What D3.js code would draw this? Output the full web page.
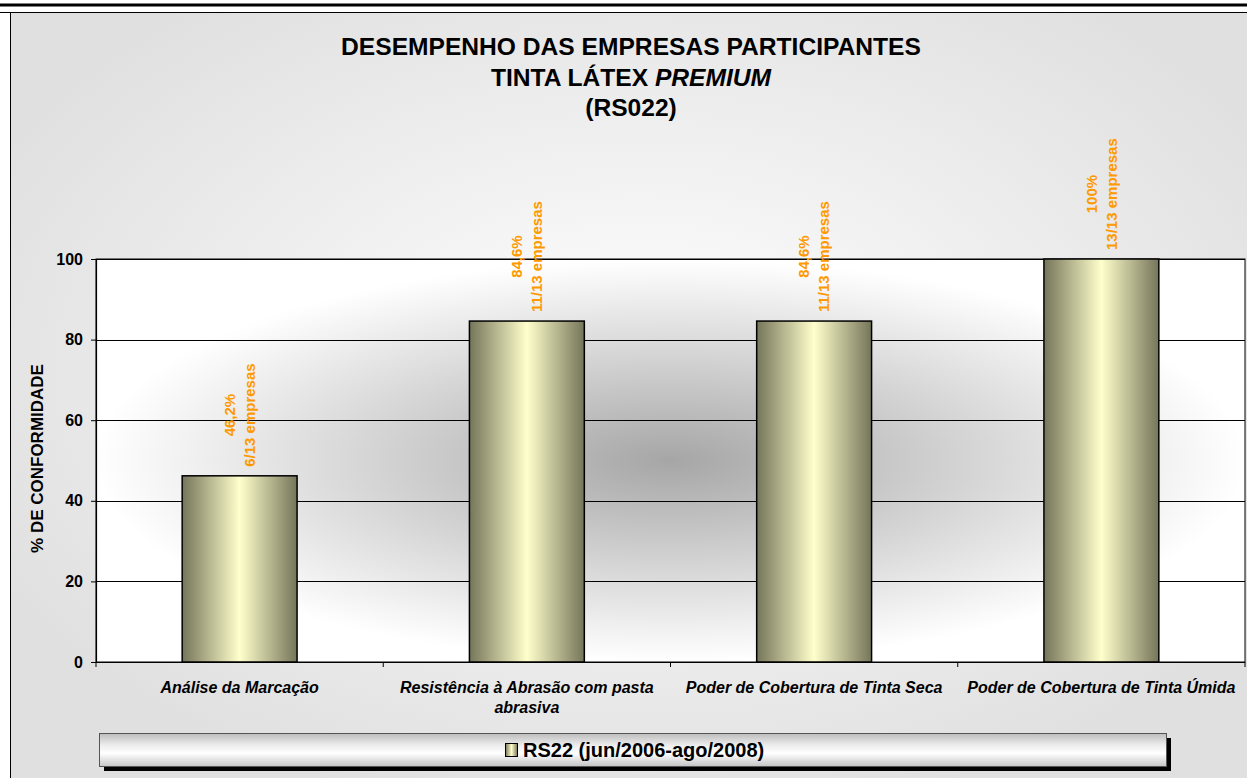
<!DOCTYPE html>
<html>
<head>
<meta charset="utf-8">
<script src="https://cdn.jsdelivr.net/npm/d3@7"></script>
<style>
  html, body { margin: 0; padding: 0; background: #fff; }
  svg { display: block; font-family: Arial, "Liberation Sans", sans-serif; }
</style>
</head>
<body>
<svg id="chart" width="1247" height="778"></svg>
<script>
// data
const categories = [
    "Análise da Marcação",
    "Resistência à Abrasão com pasta abrasiva",
    "Poder de Cobertura de Tinta Seca",
    "Poder de Cobertura de Tinta Úmida"
];
const values = [46.2, 84.6, 84.6, 100];
const pctLabels = ["46,2%", "84,6%", "84,6%", "100%"];
const countLabels = ["6/13 empresas", "11/13 empresas", "11/13 empresas", "13/13 empresas"];
const yTicks = [0, 20, 40, 60, 80, 100];
const seriesName = "RS22 (jun/2006-ago/2008)";

const svg = d3.select("#chart");
const defs = svg.append("defs");

// gradients
let chartBg = defs.append("radialGradient").attr("id", "chartBg")
    .attr("cx", "50%").attr("cy", "45%").attr("r", "58%");
chartBg.append("stop").attr("offset", "0%").attr("stop-color", "#ffffff");
chartBg.append("stop").attr("offset", "100%").attr("stop-color", "#e0e0e0");

let plotBg = defs.append("radialGradient").attr("id", "plotBg")
    .attr("cx", "50%").attr("cy", "50%").attr("r", "50%");
plotBg.append("stop").attr("offset", "0%").attr("stop-color", "#a6a6a6");
plotBg.append("stop").attr("offset", "100%").attr("stop-color", "#ffffff");

let barGrad = defs.append("linearGradient").attr("id", "barGrad")
    .attr("x1", "0%").attr("x2", "100%").attr("y1", "0%").attr("y2", "0%");
barGrad.append("stop").attr("offset", "0%").attr("stop-color", "#75755a");
barGrad.append("stop").attr("offset", "50%").attr("stop-color", "#ffffcc");
barGrad.append("stop").attr("offset", "100%").attr("stop-color", "#75755a");

let legGrad = defs.append("linearGradient").attr("id", "legGrad")
    .attr("x1", "0%").attr("x2", "0%").attr("y1", "0%").attr("y2", "100%");
legGrad.append("stop").attr("offset", "0%").attr("stop-color", "#bdbdbd");
legGrad.append("stop").attr("offset", "35%").attr("stop-color", "#ececec");
legGrad.append("stop").attr("offset", "60%").attr("stop-color", "#ffffff");
legGrad.append("stop").attr("offset", "100%").attr("stop-color", "#c4c4c4");

// page lines and chart frame
svg.append("rect").attr("x", 0).attr("y", 3.5).attr("width", 1247).attr("height", 3).attr("fill", "#000");
svg.append("rect").attr("x", 10.5).attr("y", 12.5).attr("width", 1260).attr("height", 790)
    .attr("fill", "url(#chartBg)").attr("stroke", "#000").attr("stroke-width", 1);
svg.append("line").attr("x1", 0).attr("x2", 1247).attr("y1", 12.5).attr("y2", 12.5)
    .attr("stroke", "#000").attr("stroke-width", 1);

// title
const title = svg.append("text").attr("text-anchor", "middle").attr("font-weight", "bold")
    .attr("font-size", "24.6px").attr("fill", "#000");
title.append("tspan").attr("x", 631).attr("y", 55).text("DESEMPENHO DAS EMPRESAS PARTICIPANTES");
title.append("tspan").attr("x", 631).attr("y", 86).text("TINTA LÁTEX ");
title.append("tspan").attr("font-style", "italic").text("PREMIUM");
title.append("tspan").attr("x", 631).attr("y", 116).text("(RS022)");

// plot area
const plot = { left: 96, right: 1245, top: 259, bottom: 662 };

let x = d3.scaleBand()
    .domain(d3.range(categories.length))
    .range([plot.left, plot.right])
    .paddingInner(0.6)
    .paddingOuter(0.3);

let y = d3.scaleLinear().domain([0, 100]).range([plot.bottom, plot.top]);

svg.append("rect")
    .attr("x", plot.left).attr("y", plot.top)
    .attr("width", plot.right - plot.left).attr("height", plot.bottom - plot.top)
    .attr("fill", "url(#plotBg)").attr("stroke", "#000").attr("stroke-width", 1);

// gridlines
svg.append("g").selectAll("line")
    .data(yTicks.filter(d => d > 0))
    .enter().append("line")
    .attr("x1", plot.left).attr("x2", plot.right)
    .attr("y1", d => Math.round(y(d)) + 0.5).attr("y2", d => Math.round(y(d)) + 0.5)
    .attr("stroke", "#000").attr("stroke-width", 1);

// y axis
let yAxis = svg.append("g")
    .attr("transform", `translate(${plot.left},0)`)
    .call(d3.axisLeft(y).tickValues(yTicks).tickSize(5).tickPadding(8).tickFormat(d3.format("d")));
yAxis.select(".domain").attr("stroke", "#000").attr("stroke-width", 1.2);
yAxis.selectAll(".tick line").attr("stroke", "#000");
yAxis.selectAll("text").attr("font-size", "16px").attr("font-weight", "bold")
    .attr("font-family", "Arial, 'Liberation Sans', sans-serif").attr("fill", "#000");

svg.append("text")
    .attr("transform", `translate(43,${(plot.top + plot.bottom) / 2 - 2}) rotate(-90)`)
    .attr("text-anchor", "middle")
    .attr("font-size", "17px").attr("font-weight", "bold")
    .text("% DE CONFORMIDADE");

// x axis
let xTickPos = d3.range(categories.length + 1).map(i => plot.left + i * (plot.right - plot.left) / categories.length);
svg.append("line").attr("x1", plot.left - 5).attr("x2", plot.right)
    .attr("y1", plot.bottom + 0.5).attr("y2", plot.bottom + 0.5)
    .attr("stroke", "#000").attr("stroke-width", 1.2);
svg.append("g").selectAll("line").data(xTickPos).enter().append("line")
    .attr("x1", d => d).attr("x2", d => d)
    .attr("y1", plot.bottom).attr("y2", plot.bottom + 5)
    .attr("stroke", "#000");

let xLabels = svg.append("g").selectAll("text")
    .data(categories)
    .enter().append("text")
    .attr("text-anchor", "middle")
    .attr("font-size", "16px").attr("font-weight", "bold").attr("font-style", "italic")
    .attr("y", 693);

xLabels.each(function(d, i) {
    const el = d3.select(this);
    const cx = x(i) + x.bandwidth() / 2;
    const words = d.split(" ");
    let line = [];
    let tspan = el.append("tspan").attr("x", cx).attr("dy", 0);
    words.forEach(w => {
        line.push(w);
        tspan.text(line.join(" "));
        if (tspan.node().getComputedTextLength() > 275 && line.length > 1) {
            line.pop();
            tspan.text(line.join(" "));
            line = [w];
            tspan = el.append("tspan").attr("x", cx).attr("dy", 20).text(w);
        }
    });
});

// bars
svg.append("g").selectAll("rect")
    .data(values)
    .enter().append("rect")
    .attr("x", (d, i) => x(i))
    .attr("y", d => y(d))
    .attr("width", x.bandwidth())
    .attr("height", d => y(0) - y(d))
    .attr("fill", "url(#barGrad)")
    .attr("stroke", "#000").attr("stroke-width", 1.5);

// data labels
let dl = svg.append("g").selectAll("g")
    .data(values)
    .enter().append("g");

dl.each(function(d, i) {
    const g = d3.select(this);
    const txt = g.append("text")
        .attr("text-anchor", "middle")
        .attr("font-size", "15px").attr("font-weight", "bold")
        .attr("fill", "#ff9900");
    const a = txt.append("tspan").attr("x", 0).attr("y", -10).attr("dy", "0.35em").text(pctLabels[i]);
    const b = txt.append("tspan").attr("x", 0).attr("y", 10).attr("dy", "0.35em").text(countLabels[i]);
    const maxLen = Math.max(a.node().getComputedTextLength(), b.node().getComputedTextLength());
    const cx = x(i) + x.bandwidth() / 2;
    const cy = y(d) - 9 - maxLen / 2;
    g.attr("transform", `translate(${cx},${cy}) rotate(-90)`);
});

// legend
const leg = { x: 99, y: 733, w: 1067, h: 33 };
svg.append("rect").attr("x", leg.x + 5).attr("y", leg.y + 5).attr("width", leg.w).attr("height", leg.h)
    .attr("fill", "#000");
svg.append("rect").attr("x", leg.x + 0.5).attr("y", leg.y + 0.5).attr("width", leg.w).attr("height", leg.h)
    .attr("fill", "url(#legGrad)").attr("stroke", "#555").attr("stroke-width", 1);

svg.append("text")
    .attr("x", 523).attr("y", 757)
    .attr("font-size", "20px").attr("font-weight", "bold")
    .text(seriesName);
svg.append("rect").attr("x", 505.5).attr("y", 743.5).attr("width", 12).attr("height", 13)
    .attr("fill", "url(#barGrad)").attr("stroke", "#000").attr("stroke-width", 1);
</script>
</body>
</html>
